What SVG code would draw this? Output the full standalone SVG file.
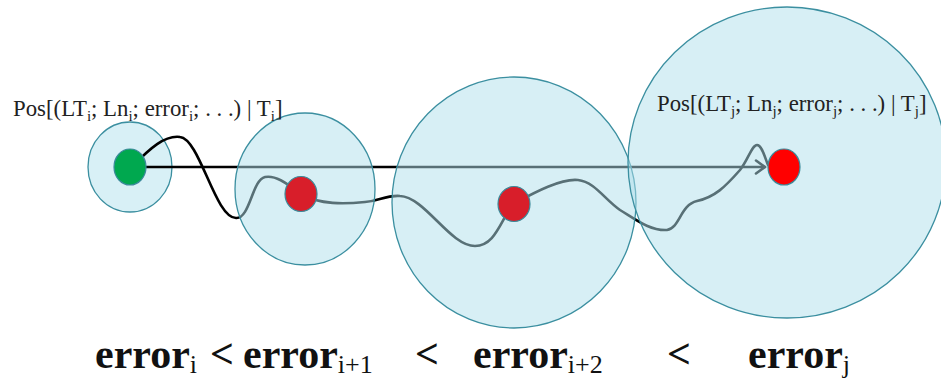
<svg xmlns="http://www.w3.org/2000/svg" width="941" height="379" viewBox="0 0 941 379">
<defs>
<style>
.zone{fill:#b0e0ec;fill-opacity:0.5;stroke:#3b8fa0;stroke-width:1.3}
.zone1{fill:#d8f0f6;stroke:#3b8fa0;stroke-width:1.3}
.dot{stroke:#3a8a9a;stroke-width:1.2}
.wire{fill:none;stroke:#000;stroke-width:2.6;stroke-linecap:round;stroke-linejoin:round}
.lbl{font-size:22.8px;fill:#222}
.eq{font-size:42px;font-weight:bold;fill:#111}
.sub{font-weight:normal;font-size:26px}
</style>
<marker id="arr" markerUnits="userSpaceOnUse" markerWidth="14" markerHeight="16" refX="11" refY="8" orient="auto">
<polyline points="2,1.5 11,8 2,14.5" fill="none" stroke="#000" stroke-width="2.6" stroke-linecap="round" stroke-linejoin="round"/>
</marker>
</defs>
<g id="zone-i"><ellipse class="zone1" cx="130" cy="167" rx="42" ry="45"/></g>
<g id="connectors">
<line class="wire" x1="132" y1="167" x2="765" y2="167" marker-end="url(#arr)"/>
<path class="wire" d="M132,167 C150,148 165,135 180,137 C200,139 215,218 236,218 C250,219 252,180 265,177 C275,175 285,182 301,194 C320,205 345,204 365,202 C380,201 385,195 400,196 C425,197 450,246 475,246 C495,246 500,222 513,204 C530,195 560,178 578,180 C595,182 605,200 620,210 C635,219 650,231 667,230 C680,228 680,205 697,201 C715,197 725,187 740,170 C748,160 752,145 757,145 C762,145 765,158 768,165"/>
</g>
<g id="zone-i1"><ellipse class="zone" cx="305" cy="189" rx="70" ry="76"/></g>
<g id="zone-i2"><ellipse class="zone" cx="514" cy="202.5" rx="122" ry="125.5"/></g>
<g id="zone-j"><ellipse class="zone" cx="787" cy="162.5" rx="159" ry="155.5"/></g>
<g id="pos-i"><ellipse class="dot" cx="130" cy="167" rx="16" ry="18" fill="#00a84f"/></g>
<g id="pos-i1"><ellipse class="dot" cx="301" cy="194" rx="16" ry="17.5" fill="#d81e2a"/></g>
<g id="pos-i2"><ellipse class="dot" cx="514" cy="204" rx="16" ry="17.5" fill="#d81e2a"/></g>
<g id="pos-j"><ellipse class="dot" cx="784" cy="167" rx="16" ry="18" fill="#ff0000"/></g>
<g id="labels" font-family="Liberation Serif, serif">
<text class="lbl" x="13" y="116">Pos[(LT<tspan font-size="15" dy="5">i</tspan><tspan dy="-5">; Ln</tspan><tspan font-size="15" dy="5">i</tspan><tspan dy="-5">; error</tspan><tspan font-size="15" dy="5">i</tspan><tspan dy="-5">; . . .) | T</tspan><tspan font-size="15" dy="5">i</tspan><tspan dy="-5">]</tspan></text>
<text class="lbl" x="657" y="111">Pos[(LT<tspan font-size="15" dy="5">j</tspan><tspan dy="-5">; Ln</tspan><tspan font-size="15" dy="5">j</tspan><tspan dy="-5">; error</tspan><tspan font-size="15" dy="5">j</tspan><tspan dy="-5">; . . .) | T</tspan><tspan font-size="15" dy="5">j</tspan><tspan dy="-5">]</tspan></text>
<text class="eq" x="95" y="368">error<tspan class="sub" dy="5">i</tspan></text>
<text class="eq" x="210" y="368">&lt;</text>
<text class="eq" x="243" y="368">error<tspan class="sub" dy="5">i+1</tspan></text>
<text class="eq" x="415" y="368">&lt;</text>
<text class="eq" x="473" y="368">error<tspan class="sub" dy="5">i+2</tspan></text>
<text class="eq" x="667" y="368">&lt;</text>
<text class="eq" x="748" y="368">error<tspan class="sub" dy="5">j</tspan></text>
</g>
</svg>
